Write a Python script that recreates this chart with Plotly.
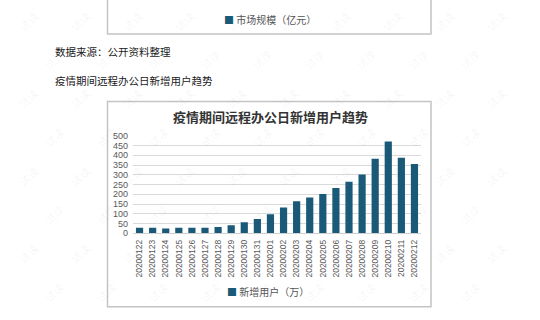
import plotly.graph_objects as go

W, H = 540, 320

dates = ["20200122", "20200123", "20200124", "20200125", "20200126", "20200127",
         "20200128", "20200129", "20200130", "20200131", "20200201", "20200202",
         "20200203", "20200204", "20200205", "20200206", "20200207", "20200208",
         "20200209", "20200210", "20200211", "20200212"]
new_users = [28, 28, 25, 28, 28, 28, 33, 42, 57, 74, 98, 132, 164, 184, 202, 232,
             265, 302, 382, 471, 387, 356]
y_ticks = [0, 50, 100, 150, 200, 250, 300, 350, 400, 450, 500]

chart_title = "疫情期间远程办公日新增用户趋势"
series_name = "新增用户（万）"
prev_legend = "市场规模（亿元）"
source_text = "数据来源：公开资料整理"
section_text = "疫情期间远程办公日新增用户趋势"
watermark = "试读"

BAR = "#1a5a78"
CJK = "Noto Sans CJK SC"
NUM = "Liberation Sans, Noto Sans CJK SC"


def px(x):
    return x / W


def py(y):
    return 1 - y / H


fig = go.Figure()
fig.add_trace(go.Bar(x=dates, y=new_users, name=series_name, marker_color=BAR,
                     marker_line_width=0, width=0.55, showlegend=False))

shapes = []
annotations = []

# faint watermarks, kept inside the page
for row in range(8):
    for col in range(10):
        x = 28 + col * 52 + (26 if row % 2 else 0)
        y = 16 + row * 40
        if x > 515 or y > 305:
            continue
        annotations.append(dict(x=px(x), y=py(y), xref="paper", yref="paper",
                                xanchor="center", yanchor="middle",
                                text=watermark, showarrow=False, textangle=-40,
                                font=dict(family=CJK, size=11, color="rgba(0,0,0,0.05)")))

# boxes
shapes.append(dict(type="rect", xref="paper", yref="paper", x0=px(107.5), x1=px(431),
                   y0=py(30), y1=py(-10), line=dict(color="#c4c4c4", width=1.5),
                   fillcolor="rgba(0,0,0,0)", layer="below"))
shapes.append(dict(type="rect", xref="paper", yref="paper", x0=px(107.5), x1=px(431),
                   y0=py(311.5), y1=py(99.5), line=dict(color="#c4c4c4", width=1.5),
                   fillcolor="rgba(0,0,0,0)", layer="below"))

annotations += [
    dict(x=px(270), y=py(15), xref="paper", yref="paper", showarrow=False,
         xanchor="center", yanchor="middle",
         text=f'<span style="color:{BAR}">■</span> {prev_legend}',
         font=dict(family=CJK, size=10, color="#555555")),
    dict(x=px(268), y=py(296), xref="paper", yref="paper", showarrow=False,
         xanchor="center", yanchor="middle",
         text=f'<span style="color:{BAR}">■</span> {series_name}',
         font=dict(family=CJK, size=10, color="#555555")),
    dict(x=px(53), y=py(48), xref="paper", yref="paper", showarrow=False,
         xanchor="left", yanchor="middle", text=source_text,
         font=dict(family=CJK, size=10.5, color="#1a1a1a")),
    dict(x=px(53), y=py(78), xref="paper", yref="paper", showarrow=False,
         xanchor="left", yanchor="middle", text=section_text,
         font=dict(family=CJK, size=10.5, color="#1a1a1a")),
    dict(x=px(270), y=py(115.5), xref="paper", yref="paper", showarrow=False,
         xanchor="center", yanchor="middle",
         text=f"<b>{chart_title}</b>", font=dict(family=CJK, size=13, color="#333333")),
]

fig.update_layout(
    width=W, height=H,
    margin=dict(l=0, r=0, t=0, b=0),
    paper_bgcolor="white", plot_bgcolor="white",
    shapes=shapes, annotations=annotations,
    showlegend=False,
    xaxis=dict(domain=[px(133), px(421)], type="category", tickangle=-90,
               tickfont=dict(family=NUM, size=8.5, color="#595959"),
               showgrid=False, showline=True, linecolor="#d0d0d0", ticks="",
               ticklabelstandoff=2, fixedrange=True),
    yaxis=dict(domain=[py(235.7), py(135)], range=[0, 500], tickvals=y_ticks,
               tickfont=dict(family=NUM, size=9, color="#595959"),
               showgrid=True, gridcolor="#d9d9d9", gridwidth=1, zeroline=False,
               showline=False, ticks="", ticklabelstandoff=4, fixedrange=True),
)

fig.write_html("out.html")
